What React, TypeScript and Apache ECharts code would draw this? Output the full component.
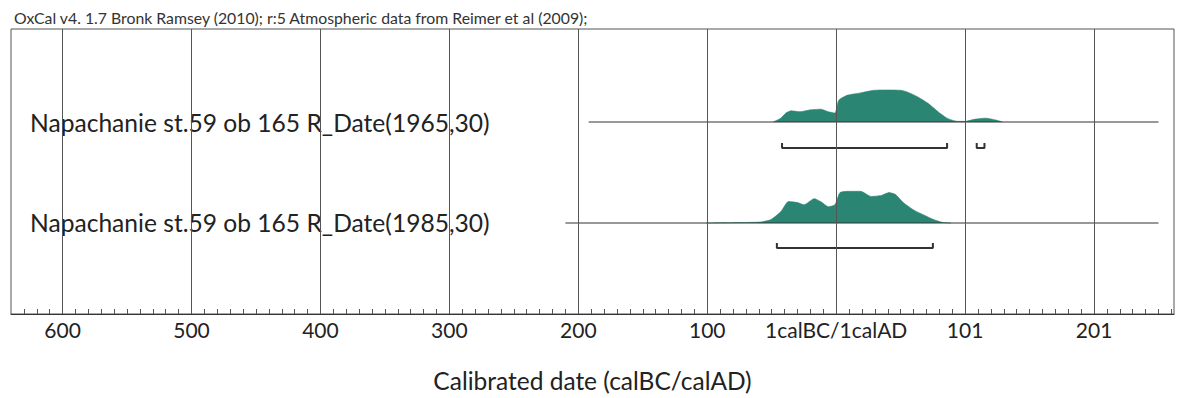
import React, { useEffect, useRef } from "react";
import * as echarts from "echarts";

// Calendar position in years relative to the 1calBC/1calAD boundary (BC negative)
const tickValues = [-600, -500, -400, -300, -200, -100, 0, 100, 200];
const tickLabels = ["600", "500", "400", "300", "200", "100", "1calBC/1calAD", "101", "201"];

const rowNames = [
  "Napachanie st.59 ob 165 R_Date(1965,30)",
  "Napachanie st.59 ob 165 R_Date(1985,30)",
];

// Extent of each row's horizontal line (years)
const rowLineStart = [-192, -210];
const rowLineEnd = [250, 250];

// Probability density (relative) for row 1
const d1Years = [-49, -43, -39, -35, -28, -20, -12, -6, -1, 2, 9, 19, 29, 40, 50, 55, 63, 71, 79, 86, 94, 100, 108, 116, 124, 129];
const d1Dens = [0, 0.12, 0.28, 0.35, 0.32, 0.38, 0.4, 0.32, 0.28, 0.68, 0.84, 0.91, 0.99, 1.0, 0.99, 0.94, 0.79, 0.59, 0.32, 0.12, 0.02, 0.02, 0.09, 0.12, 0.06, 0];

// Probability density (relative) for row 2
const d2Years = [-101, -74, -59, -51, -43, -37, -30, -25, -17, -12, -6, -1, 3, 9, 19, 27, 35, 41, 46, 52, 60, 68, 76, 83, 89];
const d2Dens = [0, 0.015, 0.03, 0.1, 0.35, 0.67, 0.64, 0.57, 0.76, 0.67, 0.51, 0.57, 0.95, 0.99, 0.99, 0.83, 0.86, 0.95, 0.89, 0.64, 0.41, 0.25, 0.1, 0.015, 0];

// 95.4% ranges (years) per row
const ranges1 = [[-42, 86], [109, 115]];
const ranges2 = [[-46, 75]];

const minorTicks: number[] = [];
for (let v = -630; v <= 260; v += 10) minorTicks.push(v);

export default function App() {
  const ref = useRef<HTMLDivElement>(null);
  useEffect(() => {
    if (!ref.current) return;
    const chart = echarts.init(ref.current, undefined, { renderer: "svg" });
    const baselines = [192, 91];
    const bracketY = [166, 66];
    const peakPx = 32;
    const fill = "#2b8573";
    const font = "Lato, 'Open Sans', sans-serif";

    const series: any[] = [];
    const dens = [
      [d1Years, d1Dens],
      [d2Years, d2Dens],
    ];
    dens.forEach(([ys, ds], i) => {
      series.push({
        type: "line",
        data: (ys as number[]).map((y, k) => [y, baselines[i] + (ds as number[])[k] * peakPx]),
        showSymbol: false,
        smooth: 0.2,
        lineStyle: { width: 0.6, color: fill },
        areaStyle: { color: fill, opacity: 1, origin: baselines[i] },
        z: 3,
        silent: true,
      });
    });
    [0, 1].forEach((i) => {
      series.push({
        type: "line",
        data: [
          [rowLineStart[i], baselines[i]],
          [rowLineEnd[i], baselines[i]],
        ],
        showSymbol: false,
        lineStyle: { width: 1, color: "#333" },
        z: 4,
        silent: true,
        markLine:
          i === 0
            ? {
                silent: true,
                symbol: "none",
                label: { show: false },
                lineStyle: { color: "#555", width: 1, type: "solid" },
                data: tickValues.map((v) => ({ xAxis: v })),
              }
            : undefined,
      });
    });
    const allRanges = [ranges1, ranges2];
    allRanges.forEach((rs, i) => {
      rs.forEach(([a, b]) => {
        series.push({
          type: "line",
          data: [
            [a, bracketY[i] + 5],
            [a, bracketY[i]],
            [b, bracketY[i]],
            [b, bracketY[i] + 5],
          ],
          showSymbol: false,
          lineStyle: { width: 2, color: "#333" },
          z: 4,
          silent: true,
        });
      });
    });

    chart.setOption({
      animation: false,
      title: {
        text: "OxCal v4. 1.7 Bronk Ramsey (2010); r:5 Atmospheric data from Reimer et al (2009);",
        left: 9,
        top: 4,
        textStyle: { fontSize: 15.8, fontWeight: "normal", color: "#333", fontFamily: font },
      },
      grid: {
        left: 11,
        right: 7,
        top: 29,
        bottom: 84,
        show: true,
        borderColor: "#555",
        borderWidth: 1,
      },
      xAxis: {
        type: "value",
        min: -640,
        max: 262,
        name: "Calibrated date (calBC/calAD)",
        nameLocation: "middle",
        nameGap: 54,
        nameTextStyle: { fontSize: 24.5, color: "#222", fontFamily: font },
        axisLine: { show: true, lineStyle: { color: "#333", width: 1 } },
        axisTick: {
          show: true,
          inside: true,
          length: 5,
          customValues: minorTicks,
          lineStyle: { color: "#555" },
        },
        axisLabel: {
          customValues: tickValues,
          margin: 5,
          fontSize: 21,
          color: "#222",
          fontFamily: font,
          formatter: (v: number) => {
            const idx = tickValues.indexOf(Math.round(v));
            return idx >= 0 ? tickLabels[idx] : "";
          },
        },
        splitLine: { show: false },
      },
      yAxis: {
        type: "value",
        min: 0,
        max: 285,
        show: false,
        splitLine: { show: false },
      },
      graphic: rowNames.map((t, i) => ({
        type: "text",
        x: 30,
        y: i === 0 ? 122 : 222,
        z: 0,
        style: {
          text: t,
          fontSize: 24.6,
          fontFamily: font,
          fill: "#222",
          textVerticalAlign: "middle",
          verticalAlign: "middle",
        },
        silent: true,
      })),
      series,
    });
    return () => chart.dispose();
  }, []);
  return <div ref={ref} style={{ width: 1181, height: 398, position: "absolute", left: 0, top: 0, background: "#fff" }} />;
}
